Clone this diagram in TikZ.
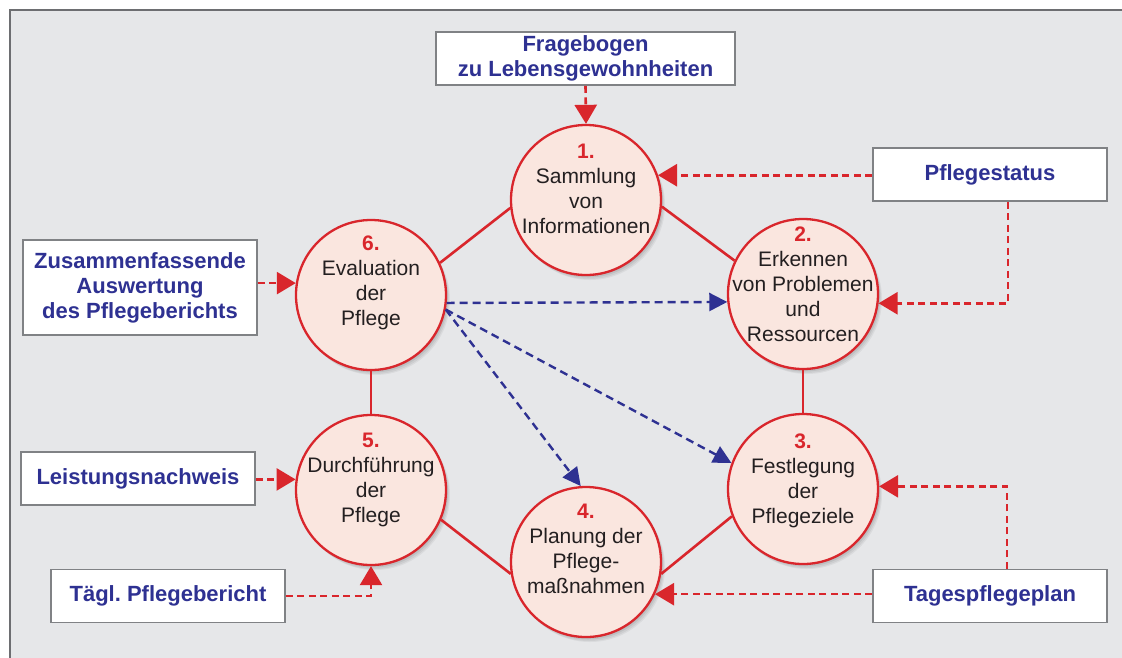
\documentclass[tikz,border=0pt]{standalone}
\usepackage{fontspec}
\setmainfont{Liberation Sans}
\usetikzlibrary{arrows.meta,shadows,calc}
\definecolor{cred}{HTML}{D9262C}
\definecolor{cblue}{HTML}{2E3192}
\definecolor{cfill}{HTML}{FAE6DF}
\definecolor{cbg}{HTML}{E6E7E9}
\definecolor{cframe}{HTML}{6D6E71}
\definecolor{cbox}{HTML}{808285}
\definecolor{ctext}{HTML}{231F20}
\newcommand\stepnum[1]{{\bfseries\color{cred}#1}}
\frenchspacing
\begin{document}
\begin{tikzpicture}[x=1pt,y=-1pt,
 stepcirc/.style={circle, draw=cred, line width=2.3pt, fill=cfill, minimum size=150pt, inner sep=0pt,
   drop shadow={shadow xshift=4pt, shadow yshift=-5pt, opacity=0.05, fill=black},
   drop shadow={shadow xshift=3pt, shadow yshift=-4pt, opacity=0.06, fill=black},
   drop shadow={shadow xshift=2pt, shadow yshift=-2.5pt, opacity=0.07, fill=black},
   drop shadow={shadow xshift=1pt, shadow yshift=-1pt, opacity=0.08, fill=black}},
 circtext/.style={align=center, font=\fontsize{21}{25}\selectfont, text=ctext, inner sep=0pt},
 infobox/.style={draw=cbox, line width=1.8pt, fill=white, align=center,
   font=\fontsize{22}{25}\selectfont\bfseries, text=cblue, minimum width=234pt, minimum height=53pt, inner sep=0pt},
 link/.style={cred, line width=2.6pt},
 feed/.style={cred, line width=2.6pt, dash pattern=on 7pt off 4.5pt, -{Triangle[length=19pt,width=22pt]}},
 bfeed/.style={cblue, line width=2.4pt, dash pattern=on 8pt off 5pt, -{Triangle[length=18pt,width=18pt]}},
]
\useasboundingbox (0,0) rectangle (1122,657);
\clip (0,0) rectangle (1122,657);
\fill[white] (0,0) rectangle (1122,657);
\draw[cframe, line width=2pt, fill=cbg] (9.5,9.5) rectangle (1140,680);

% circles
\node[stepcirc] (c1) at (586,200) {};
\node[stepcirc] (c2) at (803,294) {};
\node[stepcirc] (c3) at (803,489) {};
\node[stepcirc] (c4) at (586,562) {};
\node[stepcirc] (c5) at (371,490) {};
\node[stepcirc] (c6) at (371,295) {};

\node[circtext] (t1) at ([yshift=11.5pt]c1.center) {\stepnum{1.}\\Sammlung\\von\\Informationen};
\node[circtext] (t2) at ([yshift=10pt]c2.center) {\stepnum{2.}\\Erkennen\\von Problemen\\und\\Ressourcen};
\node[circtext] (t3) at ([yshift=8.5pt]c3.center) {\stepnum{3.}\\Festlegung\\der\\Pflegeziele};
\node[circtext] (t4) at ([yshift=13.5pt]c4.center) {\stepnum{4.}\\Planung der\\Pflege-\\maßnahmen};
\node[circtext] (t5) at ([yshift=10pt]c5.center) {\stepnum{5.}\\Durchführung\\der\\Pflege};
\node[circtext] (t6) at ([yshift=12.5pt]c6.center) {\stepnum{6.}\\Evaluation\\der\\Pflege};

% boxes
\node[infobox, minimum width=299pt] (fb) at (585.5,58.5) {Fragebogen\\zu Lebensgewohnheiten};
\node[infobox] (ps) at (990,174.5) {Pflegestatus};
\node[infobox, minimum height=95pt] (zf) at (140,287.5) {Zusammenfassende\\Auswertung\\des Pflegeberichts};
\node[infobox] (ln) at (138,478.5) {Leistungsnachweis};
\node[infobox] (tg) at (168,596) {Tägl. Pflegebericht};
\node[infobox] (tp) at (990,596) {Tagespflegeplan};

% solid cycle links
\draw[link] (c1.-5) -- (c2.154);
\draw[link] (c6.25) -- (c1.186);
\draw[link] (c6.south) -- (c5.north);
\draw[link] (c2.south) -- (c3.north);
\draw[link] (c5.-23) -- (c4.189);
\draw[link] (c3.201) -- (c4.-9);

% red dashed inputs
\draw[feed] (fb.south) -- (c1.north);
\draw[feed] (c1.19.5 -| ps.west) -- (c1.19.5);
\draw[feed] ([xshift=18pt]ps.south) |- (c2.-7);
\draw[feed] (c6.171 -| zf.east) -- (c6.171);
\draw[feed] (c5.172 -| ln.east) -- (c5.172);
\draw[feed] (tg.east) -| (c5.south);
\draw[feed] (c4.-25 -| tp.west) -- (c4.-25);
\draw[feed] ([xshift=17pt]tp.north) |- (c3.2);

% blue dashed evaluation arrows
\draw[bfeed] (c6.-6) -- (c2.186);
\draw[bfeed] (c6.-11) -- (c4.94);
\draw[bfeed] (c6.-11) -- (c3.160);
\end{tikzpicture}
\end{document}
